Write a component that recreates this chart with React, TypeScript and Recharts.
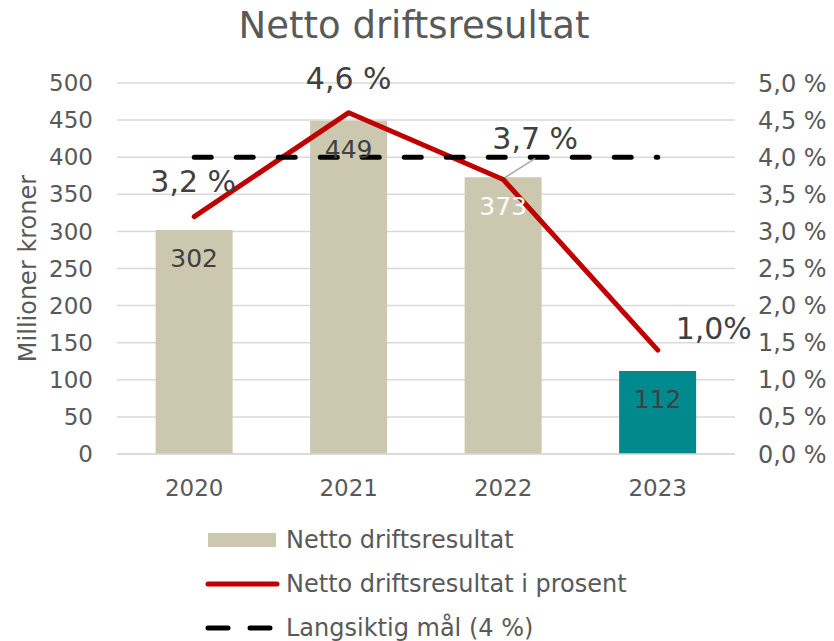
import React from 'react'
import { ComposedChart, Bar, Line, XAxis, YAxis, CartesianGrid, LabelList, Legend, Cell } from 'recharts'

const years = ['2020', '2021', '2022', '2023']
const resultat = [302, 449, 373, 112]
const prosent = [3.2, 4.6, 3.7, 1.4]
const prosentTekst = ['3,2 %', '4,6 %', '3,7 %', '1,0%']
const maal = [4, 4, 4, 4]
const venstreTicks = [0, 50, 100, 150, 200, 250, 300, 350, 400, 450, 500]
const hoyreTicks = [0, 0.5, 1, 1.5, 2, 2.5, 3, 3.5, 4, 4.5, 5]

const data = years.map((aar, i) => ({ aar, resultat: resultat[i], prosent: prosent[i], maal: maal[i] }))

const FONT = '"DejaVu Sans", Verdana, sans-serif'
const GREY = '#595959'
const DARK = '#404040'
const TAN = '#CCC8AF'
const TEAL = '#008A8E'
const RED = '#C00000'
const barFarger = [TAN, TAN, TAN, TEAL]
const barTekstFarger = [DARK, DARK, '#FFFFFF', DARK]
// flytt av prosentetikettene i forhold til punktet [dx, dy]
const prosentFlytt = [[-1, -35], [0, -34], [32, -41], [56, -22]]

const fmtProsent = (v: number) => v.toFixed(1).replace('.', ',') + ' %'

function BarEtikett(props: any) {
  const { x, y, width, index, value } = props
  return (
    <text x={x + width / 2} y={y + 29} textAnchor="middle" dominantBaseline="central"
      fontSize={25} fontFamily={FONT} fill={barTekstFarger[index]}>
      {value}
    </text>
  )
}

function ProsentEtikett(props: any) {
  const { x, y, index } = props
  const [dx, dy] = prosentFlytt[index]
  return (
    <g>
      {index === 2 && <line x1={x + 2} y1={y - 2} x2={x + dx} y2={y - 21} stroke="#A6A6A6" strokeWidth={1.5} />}
      <text x={x + dx} y={y + dy} textAnchor="middle" dominantBaseline="central"
        fontSize={30} fontFamily={FONT} fill={DARK}>
        {prosentTekst[index]}
      </text>
    </g>
  )
}

function AkseTittel(props: any) {
  const vb = props.viewBox || {}
  const cy = (vb.y ?? 83) + (vb.height ?? 371) / 2
  return (
    <text x={28} y={cy} transform={`rotate(-90, 28, ${cy})`} textAnchor="middle" dominantBaseline="central"
      fontSize={24} fontFamily={FONT} fill={GREY}>
      Millioner kroner
    </text>
  )
}

function Tegnforklaring() {
  const rad = { display: 'flex', alignItems: 'center', height: 44 } as const
  const tekst = { fontSize: 24, color: GREY, fontFamily: FONT, marginLeft: 6 }
  return (
    <div>
      <div style={rad}>
        <svg width={76} height={14}><rect x={4} y={0} width={68} height={14} fill={TAN} /></svg>
        <span style={tekst}>Netto driftsresultat</span>
      </div>
      <div style={rad}>
        <svg width={76} height={14}><line x1={4} y1={7} x2={73} y2={7} stroke={RED} strokeWidth={5} strokeLinecap="round" /></svg>
        <span style={tekst}>Netto driftsresultat i prosent</span>
      </div>
      <div style={rad}>
        <svg width={76} height={14}>
          <line x1={4} y1={7} x2={24} y2={7} stroke="#000" strokeWidth={5} strokeLinecap="round" />
          <line x1={46} y1={7} x2={66} y2={7} stroke="#000" strokeWidth={5} strokeLinecap="round" />
        </svg>
        <span style={tekst}>Langsiktig mål (4 %)</span>
      </div>
    </div>
  )
}

export default function App() {
  return (
    <div style={{ position: 'absolute', left: 0, top: 0, width: 834, height: 641, background: '#fff', fontFamily: FONT }}>
      <div style={{ position: 'absolute', left: 0, top: 4, width: 828, textAlign: 'center', fontSize: 37, color: GREY }}>
        Netto driftsresultat
      </div>
      <ComposedChart width={834} height={641} data={data}
        margin={{ top: 83, right: 0, bottom: 147, left: 0 }} barCategoryGap="25%">
        <CartesianGrid yAxisId="v" vertical={false} stroke="#D9D9D9" strokeWidth={1.5} />
        <XAxis dataKey="aar" axisLine={{ stroke: '#D9D9D9', strokeWidth: 1.5 }} tickLine={false} height={40}
          tickMargin={20} tick={{ fill: GREY, fontSize: 23, fontFamily: FONT }} />
        <YAxis yAxisId="v" width={117} domain={[0, 500]} ticks={venstreTicks} axisLine={false} tickLine={false}
          tickSize={0} tickMargin={24} tick={{ fill: GREY, fontSize: 23, fontFamily: FONT }}
          label={<AkseTittel />} />
        <YAxis yAxisId="h" orientation="right" width={99} domain={[0, 5]} ticks={hoyreTicks} axisLine={false}
          tickLine={false} tickSize={0} tickMargin={23} tickFormatter={fmtProsent}
          tick={{ fill: GREY, fontSize: 24, fontFamily: FONT, textAnchor: 'start' }} />
        <Legend layout="vertical" align="center" verticalAlign="middle" content={<Tegnforklaring />}
          wrapperStyle={{ left: 204, top: 518, width: 500 }} />
        <Bar yAxisId="v" dataKey="resultat" isAnimationActive={false}>
          {data.map((d, i) => <Cell key={d.aar} fill={barFarger[i]} />)}
          <LabelList dataKey="resultat" content={<BarEtikett />} />
        </Bar>
        <Line yAxisId="h" dataKey="prosent" type="linear" stroke={RED} strokeWidth={5} dot={false}
          strokeLinecap="round" strokeLinejoin="round" isAnimationActive={false}>
          <LabelList dataKey="prosent" content={<ProsentEtikett />} />
        </Line>
        <Line yAxisId="h" dataKey="maal" type="linear" stroke="#000" strokeWidth={5} strokeDasharray="17 25"
          strokeLinecap="round" dot={false} isAnimationActive={false} />
      </ComposedChart>
    </div>
  )
}
